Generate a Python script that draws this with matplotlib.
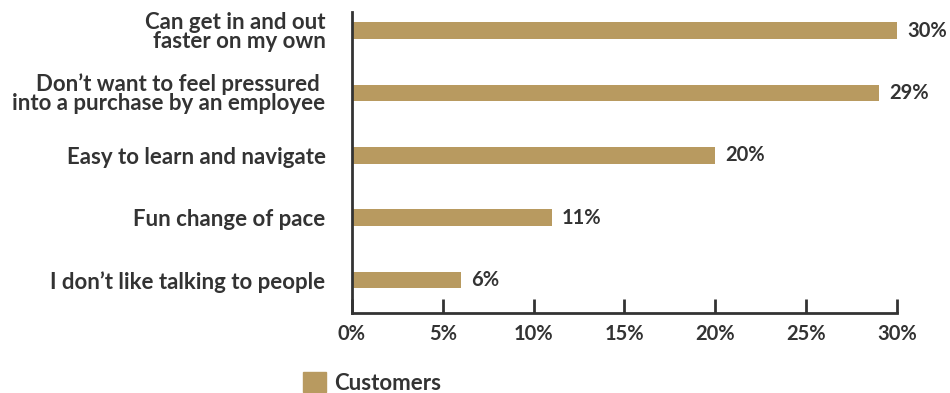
import matplotlib.pyplot as plt
from matplotlib.patches import Patch

categories = ['Can get in and out\nfaster on my own',
              'Don\u2019t want to feel pressured \ninto a purchase by an employee',
              'Easy to learn and navigate',
              'Fun change of pace',
              'I don\u2019t like talking to people']
values = [30, 29, 20, 11, 6]
value_labels = ['30%', '29%', '20%', '11%', '6%']
xticks = [0, 5, 10, 15, 20, 25, 30]
series_name = 'Customers'

bar_color = '#b89a60'
text_color = '#333333'

plt.rcParams['font.family'] = ['Lato', 'DejaVu Sans']
plt.rcParams['font.weight'] = 'bold'

fig = plt.figure(figsize=(9.5, 3.93), dpi=100)
ax = fig.add_axes([0.3705, 0.2036, 0.5737, 0.7659])

ypos = list(range(len(categories)))
ax.barh(ypos, values, height=0.27, color=bar_color, zorder=2)
for y, v, lab in zip(ypos, values, value_labels):
    ax.text(v + 0.55, y, lab, va='center', ha='left', fontsize=14.5,
            color=text_color, fontweight='bold')

ax.set_ylim(4.53, -0.3)
ax.set_xlim(0, 30)
ax.set_yticks(ypos)
ax.set_yticklabels(categories, fontsize=16, color=text_color,
                   fontweight='bold', linespacing=0.88)
ax.tick_params(axis='y', length=0, pad=19)
ax.set_xticks(xticks)
ax.set_xticklabels([f'{t}%' for t in xticks], fontsize=14.5,
                   color=text_color, fontweight='bold')
ax.tick_params(axis='x', direction='in', length=10, width=2,
               color=text_color, pad=8)

for side in ['top', 'right']:
    ax.spines[side].set_visible(False)
for side in ['left', 'bottom']:
    ax.spines[side].set_linewidth(2)
    ax.spines[side].set_color(text_color)

fig.legend(handles=[Patch(color=bar_color, label=series_name)],
           loc='center', bbox_to_anchor=(0.392, 0.025), frameon=False,
           fontsize=16, handlelength=1.0, handleheight=1.0,
           handletextpad=0.4, labelcolor=text_color)

fig.savefig('out.png', dpi=100)
